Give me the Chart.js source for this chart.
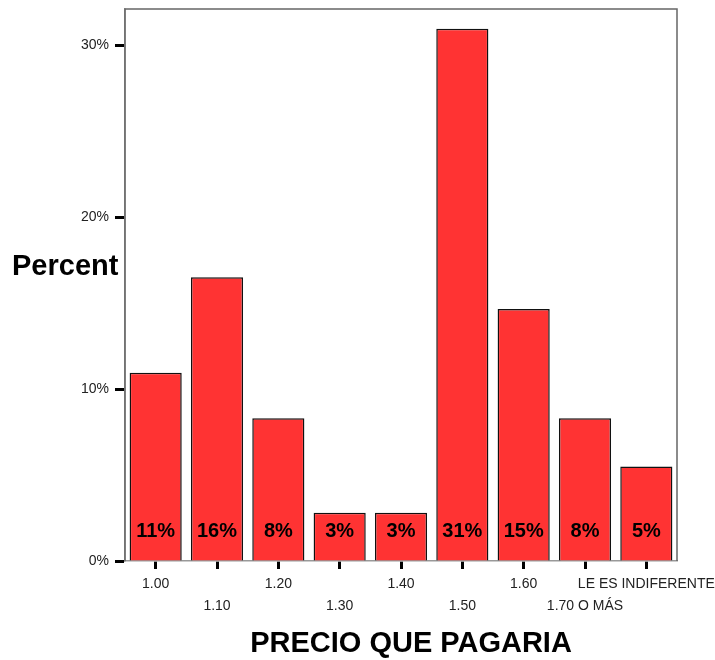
<!DOCTYPE html>
<html><head><meta charset="utf-8">
<script src="https://cdn.jsdelivr.net/npm/chart.js@4/dist/chart.umd.min.js"></script>
<style>html,body{margin:0;padding:0;background:#fff}#w{width:715px;height:660px}</style>
</head><body><div id="w"><canvas id="c"></canvas></div>
<script>
const categories = ['1.00','1.10','1.20','1.30','1.40','1.50','1.60','1.70 O MÁS','LE ES INDIFERENTE'];
const percents = [10.95, 16.5, 8.3, 2.8, 2.8, 30.95, 14.65, 8.3, 5.5];
const barLabels = ['11%','16%','8%','3%','3%','31%','15%','8%','5%'];
const yTicks = [0, 10, 20, 30];
const yAxisTitle = 'Percent';
const xAxisTitle = 'PRECIO QUE PAGARIA';

const framePlugin = {
  id: 'frame',
  beforeDatasetsDraw(chart) {
    const a = chart.chartArea, ctx = chart.ctx;
    ctx.save();
    ctx.strokeStyle = '#666'; ctx.lineWidth = 1.5;
    ctx.beginPath();
    ctx.moveTo(a.left, a.bottom); ctx.lineTo(a.left, a.top); ctx.lineTo(a.right, a.top); ctx.lineTo(a.right, a.bottom);
    ctx.stroke();
    ctx.restore();
  },
  afterDraw(chart) {
    const ctx = chart.ctx;
    const meta = chart.getDatasetMeta(0);
    ctx.save();
    ctx.fillStyle = '#000';
    ctx.font = 'bold 20px Arial, "Liberation Sans", sans-serif';
    ctx.textAlign = 'center'; ctx.textBaseline = 'middle';
    meta.data.forEach((b, i) => {
      ctx.fillText(barLabels[i], b.x, b.base - 29);
    });
    ctx.font = 'bold 29px Arial, "Liberation Sans", sans-serif';
    ctx.textAlign = 'left';
    ctx.fillText(yAxisTitle, 12, 267);
    ctx.textAlign = 'center';
    ctx.fillText(xAxisTitle, 411, 644);
    ctx.restore();
  }
};

new Chart(document.getElementById('c'), {
  type: 'bar',
  data: {
    labels: categories,
    datasets: [{
      data: percents,
      backgroundColor: '#FF3333',
      borderColor: '#111',
      borderWidth: 1.5,
      categoryPercentage: 1,
      barPercentage: 0.85
    }]
  },
  options: {
    responsive: true,
    maintainAspectRatio: false,
    animation: false,
    layout: { padding: { left: 0, right: 38, top: 9, bottom: 0 } },
    plugins: { legend: { display: false }, tooltip: { enabled: false } },
    scales: {
      y: {
        min: 0, max: 32.1,
        afterFit(s) { s.width = 125; s.paddingTop = 0; s.paddingBottom = 0; },
        afterBuildTicks(s) { s.ticks = yTicks.map(v => ({ value: v })); },
        border: { display: true, color: '#999', width: 1.5 },
        grid: { drawOnChartArea: false, drawTicks: true, tickLength: 10, tickWidth: 3, tickColor: '#000' },
        ticks: {
          padding: 6, color: '#222',
          font: { family: 'Arial, "Liberation Sans", sans-serif', size: 14 },
          callback: v => v + '%'
        }
      },
      x: {
        afterFit(s) { s.height = 99; s.paddingLeft = 0; s.paddingRight = 0; },
        border: { display: true, color: '#999', width: 1.5 },
        grid: { offset: false, drawOnChartArea: false, drawTicks: true, tickLength: 8, tickWidth: 3, tickColor: '#000' },
        ticks: {
          autoSkip: false, maxRotation: 0, minRotation: 0, padding: 4, color: '#222',
          font: { family: 'Arial, "Liberation Sans", sans-serif', size: 14, lineHeight: 1.6 },
          callback(v, i) { const l = categories[i]; return i % 2 === 0 ? [l] : ['', l]; }
        }
      }
    }
  },
  plugins: [framePlugin]
});
</script>
</body></html>
